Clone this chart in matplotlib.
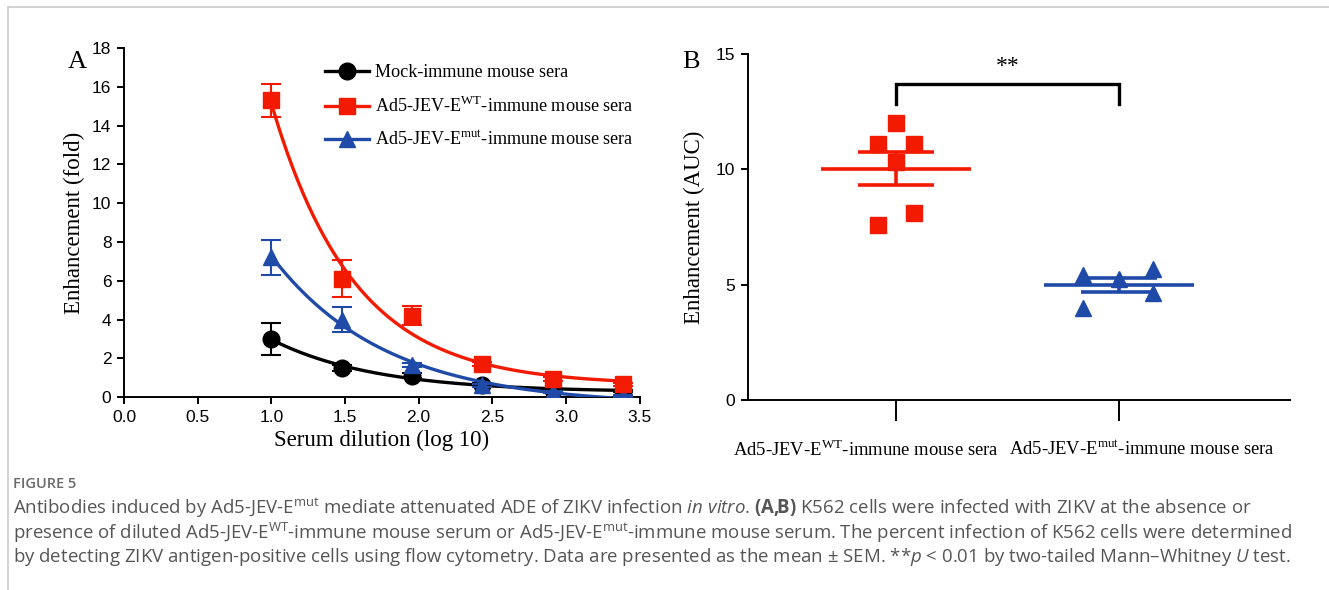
import numpy as np
import matplotlib.pyplot as plt
from matplotlib.lines import Line2D
from matplotlib import transforms

plt.rcParams['mathtext.fontset'] = 'custom'
plt.rcParams['mathtext.rm'] = 'Liberation Serif'
plt.rcParams['mathtext.sf'] = 'Open Sans'
plt.rcParams['mathtext.it'] = 'Open Sans:italic'
plt.rcParams['mathtext.bf'] = 'Open Sans:bold'

SERIF = 'Liberation Serif'
SANS = 'Liberation Sans'
RED = '#f21a00'
BLUE = '#1f4aa8'

# ---- panel A: enhancement vs serum dilution (3-fold from 1:10)
dilutions = [10, 30, 90, 270, 810, 2430]
series_names = ['Mock-immune mouse sera',
                'Ad5-JEV-E$^{\\mathrm{WT}}$-immune mouse sera',
                'Ad5-JEV-E$^{\\mathrm{mut}}$-immune mouse sera']
mock_mean = [3.0, 1.5, 1.1, 0.62, 0.38, 0.33]
mock_sem = [0.82, 0.15, 0.12, 0.08, 0.05, 0.05]
wt_mean = [15.3, 6.1, 4.2, 1.7, 0.95, 0.65]
wt_sem = [0.85, 0.95, 0.5, 0.12, 0.1, 0.1]
mut_mean = [7.2, 4.0, 1.65, 0.6, 0.25, 0.05]
mut_sem = [0.9, 0.65, 0.12, 0.08, 0.05, 0.05]

# ---- panel B: AUC per mouse
groups = ['Ad5-JEV-E$^{\\mathrm{WT}}$-immune mouse sera',
          'Ad5-JEV-E$^{\\mathrm{mut}}$-immune mouse sera']
wt_auc = [12.0, 11.1, 11.1, 10.3, 8.1, 7.6]
wt_jitter = [0, -0.08, 0.08, 0, 0.08, -0.08]
mut_auc = [5.4, 5.25, 5.7, 4.65, 4.0]
mut_jitter = [-0.16, 0, 0.15, 0.15, -0.16]


def fit_decay(x, y):
    # one-phase decay y = a*exp(-k*(x-x0)) + c, brute force on k
    best = None
    for k in np.linspace(0.2, 8, 600):
        A = np.column_stack([np.exp(-k * (x - x[0])), np.ones_like(x)])
        coef = np.linalg.lstsq(A, y, rcond=None)[0]
        err = np.sum((A @ coef - y) ** 2)
        if best is None or err < best[0]:
            best = (err, k, coef)
    return best[1], best[2]


fig = plt.figure(figsize=(13.29, 5.90), dpi=100)

# ================= panel A
axA = fig.add_axes([0.0933, 0.327, 0.388, 0.5915])
x = np.log10(dilutions)
xs = np.linspace(x[0], x[-1], 200)

series = [(mock_mean, mock_sem, 'black', 'o', 3),
          (wt_mean, wt_sem, RED, 's', 5),
          (mut_mean, mut_sem, BLUE, '^', 4)]
handles = []
for (m, s, c, mk, z), name in zip(series, series_names):
    m = np.array(m)
    k, (a, b) = fit_decay(x, m)
    axA.plot(xs, a * np.exp(-k * (xs - x[0])) + b, color=c, lw=2.4, zorder=z)
    axA.errorbar(x, m, yerr=s, fmt='none', ecolor=c, elinewidth=1.5,
                 capsize=7, capthick=1.5, zorder=z)
    axA.plot(x, m, ls='none', marker=mk, ms=12 if mk != '^' else 11,
             color=c, zorder=z + 0.5)
    handles.append(Line2D([], [], color=c, lw=2.4, marker=mk, ms=12))

axA.set_xlim(0, 3.5)
axA.set_ylim(0, 18)
axA.set_xticks(np.arange(0, 3.51, 0.5))
axA.set_yticks(np.arange(0, 19, 2))
axA.set_xticklabels([f'{v:.1f}' for v in np.arange(0, 3.51, 0.5)])
for sp in ['top', 'right']:
    axA.spines[sp].set_visible(False)
for sp in ['left', 'bottom']:
    axA.spines[sp].set_linewidth(1.4)
axA.tick_params(direction='out', length=5, width=1.4, labelsize=12.5, pad=4)
for lab in axA.get_xticklabels() + axA.get_yticklabels():
    lab.set_fontfamily(SANS)
axA.set_xlabel('Serum dilution (log 10)', fontfamily=SERIF, fontsize=16.5, labelpad=4)
axA.set_ylabel('Enhancement (fold)', fontfamily=SERIF, fontsize=16.5, labelpad=5)
axA.legend(handles, series_names, loc='upper left', bbox_to_anchor=(0.358, 1.0),
           frameon=False, handlelength=2.4, handletextpad=0.35, labelspacing=0.8,
           prop={'family': SERIF, 'size': 13.1})
fig.text(0.051, 0.884, 'A', fontfamily=SERIF, fontsize=19)

# ================= panel B
axB = fig.add_axes([0.5628, 0.322, 0.408, 0.5864])
for i, (vals, jit, c, mk) in enumerate([(wt_auc, wt_jitter, RED, 's'),
                                         (mut_auc, mut_jitter, BLUE, '^')]):
    vals = np.array(vals)
    mean = vals.mean()
    sem = vals.std(ddof=1) / np.sqrt(len(vals))
    axB.plot(i + np.array(jit), vals, ls='none', marker=mk,
             ms=12 if mk == 's' else 11, color=c, zorder=3)
    axB.hlines(mean, i - 0.335, i + 0.335, color=c, lw=2.6, zorder=4)
    axB.hlines([mean - sem, mean + sem], i - 0.17, i + 0.17, color=c, lw=2.6, zorder=4)
    axB.vlines(i, mean - sem, mean + sem, color=c, lw=2.6, zorder=4)

axB.set_xlim(-0.664, 1.767)
axB.set_ylim(0, 15)
axB.set_yticks([0, 5, 10, 15])
axB.set_xticks([0, 1])
axB.set_xticklabels(groups, fontfamily=SERIF, fontsize=13.4)
for sp in ['top', 'right']:
    axB.spines[sp].set_visible(False)
for sp in ['left', 'bottom']:
    axB.spines[sp].set_linewidth(1.4)
axB.tick_params(axis='y', direction='out', length=5, width=1.4, labelsize=12.5, pad=4)
axB.tick_params(axis='x', direction='out', length=15, width=1.4, pad=14)
for lab in axB.get_yticklabels():
    lab.set_fontfamily(SANS)
for lab, dx in zip(axB.get_xticklabels(), [-30, 23]):
    lab.set_transform(lab.get_transform() + transforms.ScaledTranslation(dx / 100, 0, fig.dpi_scale_trans))
axB.set_ylabel('Enhancement (AUC)', fontfamily=SERIF, fontsize=16.5, labelpad=8)

# significance bracket
top = 13.7
axB.plot([0, 0, 1, 1], [top - 0.85, top, top, top - 0.85], color='black', lw=2.4,
         solid_joinstyle='miter', clip_on=False)
axB.text(0.5, top + 0.3, '**', ha='center', va='bottom', fontfamily=SERIF, fontsize=17)
fig.text(0.513, 0.884, 'B', fontfamily=SERIF, fontsize=19)

# ================= caption + frame
fig.add_artist(Line2D([0.006, 1], [0.988, 0.988], color='#cccccc', lw=1.2))
fig.add_artist(Line2D([0.006, 0.006], [0, 0.988], color='#cccccc', lw=1.2))

fig.text(0.0098, 0.179, 'FIGURE 5', fontfamily='Open Sans', fontweight='semibold',
         fontsize=10.5, color='#6a6a6a', va='center')
cap = [
    'Antibodies induced by Ad5-JEV-E$^{\\mathsf{mut}}$ mediate attenuated ADE of ZIKV infection '
    '$\\mathit{in\\ vitro}$. $\\mathbf{(A,\\!\\!B)}$ K562 cells were infected with ZIKV at the absence or',
    'presence of diluted Ad5-JEV-E$^{\\mathsf{WT}}$-immune mouse serum or Ad5-JEV-E$^{\\mathsf{mut}}$'
    '-immune mouse serum. The percent infection of K562 cells were determined',
    'by detecting ZIKV antigen-positive cells using flow cytometry. Data are presented as the mean '
    '\u00b1 SEM. **$\\mathit{p}$ < 0.01 by two-tailed Mann\u2013Whitney $\\mathit{U}$ test.',
]
for j, line in enumerate(cap):
    fig.text(0.0098, 0.139 - j * 0.0415, line, fontfamily='Open Sans', fontsize=13.4,
             color='#555555', va='center')

fig.savefig('out.png', dpi=100)
